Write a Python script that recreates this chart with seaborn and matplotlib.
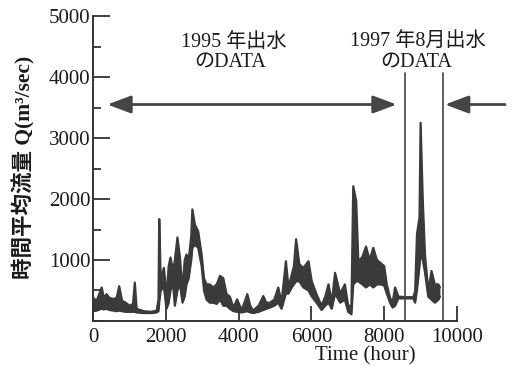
import numpy as np
import pandas as pd
import matplotlib
matplotlib.use("Agg")
import matplotlib.pyplot as plt
import seaborn as sns
from matplotlib.ticker import MultipleLocator

hours = [0, 100, 240, 300, 375, 450, 560, 650, 720, 800, 900, 1000, 1100, 1150,
         1200, 1400, 1600, 1750, 1800, 1820, 1860, 1950, 2020, 2080, 2130, 2200,
         2250, 2320, 2390, 2460, 2520, 2570, 2630, 2700, 2730, 2800, 2890, 2985,
         3050, 3120, 3210, 3300, 3400, 3490, 3580, 3670, 3760, 3860, 3960, 4080,
         4160, 4240, 4320, 4400, 4550, 4680, 4760, 4860, 4980, 5090, 5180, 5300,
         5370, 5460, 5520, 5580, 5670, 5780, 5920, 6010, 6140, 6280, 6380, 6470,
         6560, 6650, 6790, 6920, 7010, 7100, 7150, 7230, 7290, 7400, 7500, 7600,
         7700, 7800, 7900, 8000, 8070, 8160, 8230, 8300, 8390, 8600, 8800, 8850,
         8900, 8970, 9000, 9060, 9120, 9210, 9300, 9390, 9490, 9530]
q_low = [160, 170, 200, 190, 200, 180, 170, 160, 170, 160, 150, 150, 150, 150,
         140, 130, 130, 140, 160, 300, 500, 550, 200, 300, 500, 600,
         250, 500, 600, 300, 400, 600, 700, 1000, 1200, 1250, 1200, 900,
         500, 350, 300, 300, 280, 350, 250, 250, 200, 160, 150, 140,
         150, 160, 140, 130, 150, 180, 200, 220, 250, 300, 200, 450,
         450, 550, 600, 650, 650, 550, 500, 400, 300, 180, 250, 300,
         200, 450, 300, 350, 150, 110, 600, 650, 650, 600, 550, 600,
         550, 600, 600, 580, 450, 300, 220, 250, 370, 370, 370, 300,
         500, 900, 1100, 1000, 800, 400, 350, 300, 350, 400]
q_up = [380, 330, 550, 380, 440, 380, 360, 380, 570, 330, 300, 250, 280, 630,
        200, 160, 150, 170, 350, 1670, 700, 870, 400, 900, 1040, 820,
        1000, 1370, 1040, 500, 1000, 1090, 1000, 1400, 1830, 1580, 1470, 1090,
        700, 600, 600, 550, 600, 740, 700, 440, 400, 220, 355, 180,
        300, 440, 250, 170, 250, 410, 300, 300, 350, 550, 300, 980,
        550, 760, 900, 1340, 930, 870, 980, 650, 440, 250, 400, 600,
        300, 790, 450, 600, 250, 250, 2210, 1970, 980, 1050, 1220, 1000,
        1200, 1000, 950, 900, 600, 380, 300, 550, 400, 390, 390, 490,
        1420, 1700, 3250, 1970, 1090, 490, 820, 600, 600, 550]

# markers of the two data periods
split_hours = [8570, 9610]
split_top = 4070
labels_1995 = ["1995 年出水", "のDATA"]
labels_1997 = ["1997 年8月出水", "のDATA"]

df = pd.DataFrame({"hour": hours, "low": q_low, "up": q_up})

sns.set_style("ticks")
plt.rcParams["font.family"] = ["Liberation Serif", "Noto Sans CJK JP"]

ink = "#3a3a3a"
fig = plt.figure(figsize=(5.12, 3.66), dpi=100)
ax = fig.add_axes([0.1816, 0.123, 0.711, 0.833])

ax.fill_between(df["hour"], df["low"], df["up"], color=ink, lw=0)
sns.lineplot(data=df, x="hour", y="up", ax=ax, color=ink, lw=1.6, estimator=None)
sns.lineplot(data=df, x="hour", y="low", ax=ax, color=ink, lw=1.6, estimator=None)

for h in split_hours:
    ax.plot([h, h], [0, split_top], color="#444444", lw=1.2)

ax.annotate("", xy=(8342, 3550), xytext=(394, 3550),
            arrowprops=dict(arrowstyle="<|-|>,head_length=0.8,head_width=0.3",
                            mutation_scale=18, lw=2, color="#454545",
                            shrinkA=0, shrinkB=0))
ax.annotate("", xy=(9670, 3550), xytext=(11320, 3550), annotation_clip=False,
            arrowprops=dict(arrowstyle="-|>,head_length=0.8,head_width=0.3",
                            mutation_scale=18, lw=2, color="#454545",
                            shrinkA=0, shrinkB=0))

ax.text(3855, 4563, labels_1995[0], ha="center", va="center", fontsize=14.5, color="#1a1a1a")
ax.text(3764, 4235, labels_1995[1], ha="center", va="center", fontsize=14.5, color="#1a1a1a")
ax.text(8930, 4563, labels_1997[0], ha="center", va="center", fontsize=14.5, color="#1a1a1a")
ax.text(8880, 4235, labels_1997[1], ha="center", va="center", fontsize=14.5, color="#1a1a1a")

ax.set_xlim(0, 10000)
ax.set_ylim(0, 5000)
ax.set_xticks([0, 2000, 4000, 6000, 8000, 10000])
ax.set_yticks([1000, 2000, 3000, 4000, 5000])
ax.yaxis.set_minor_locator(MultipleLocator(500))
ax.tick_params(axis="x", direction="in", length=11, width=1.3, pad=5,
               labelsize=15, colors="#333", labelcolor="#1a1a1a")
ax.tick_params(axis="y", which="major", direction="in", length=12, width=1.3,
               pad=2, labelsize=15, colors="#333", labelcolor="#1a1a1a")
ax.tick_params(axis="y", which="minor", direction="in", length=6, width=1.3,
               colors="#333")
ax.set_xlabel("")
ax.set_ylabel("")
sns.despine(ax=ax)
for s in ["left", "bottom"]:
    ax.spines[s].set_linewidth(1.4)
    ax.spines[s].set_color("#333")

fig.text(365 / 512, 1 - 356 / 366, "Time (hour)", ha="center", va="center",
         fontsize=15, color="#1a1a1a")
fig.text(24 / 512, 1 - 167 / 366, "時間平均流量 Q(m³/sec)", rotation=90,
         ha="center", va="center", fontsize=15.5, fontweight="bold", color="#1a1a1a")

fig.savefig("out.png", dpi=100)
